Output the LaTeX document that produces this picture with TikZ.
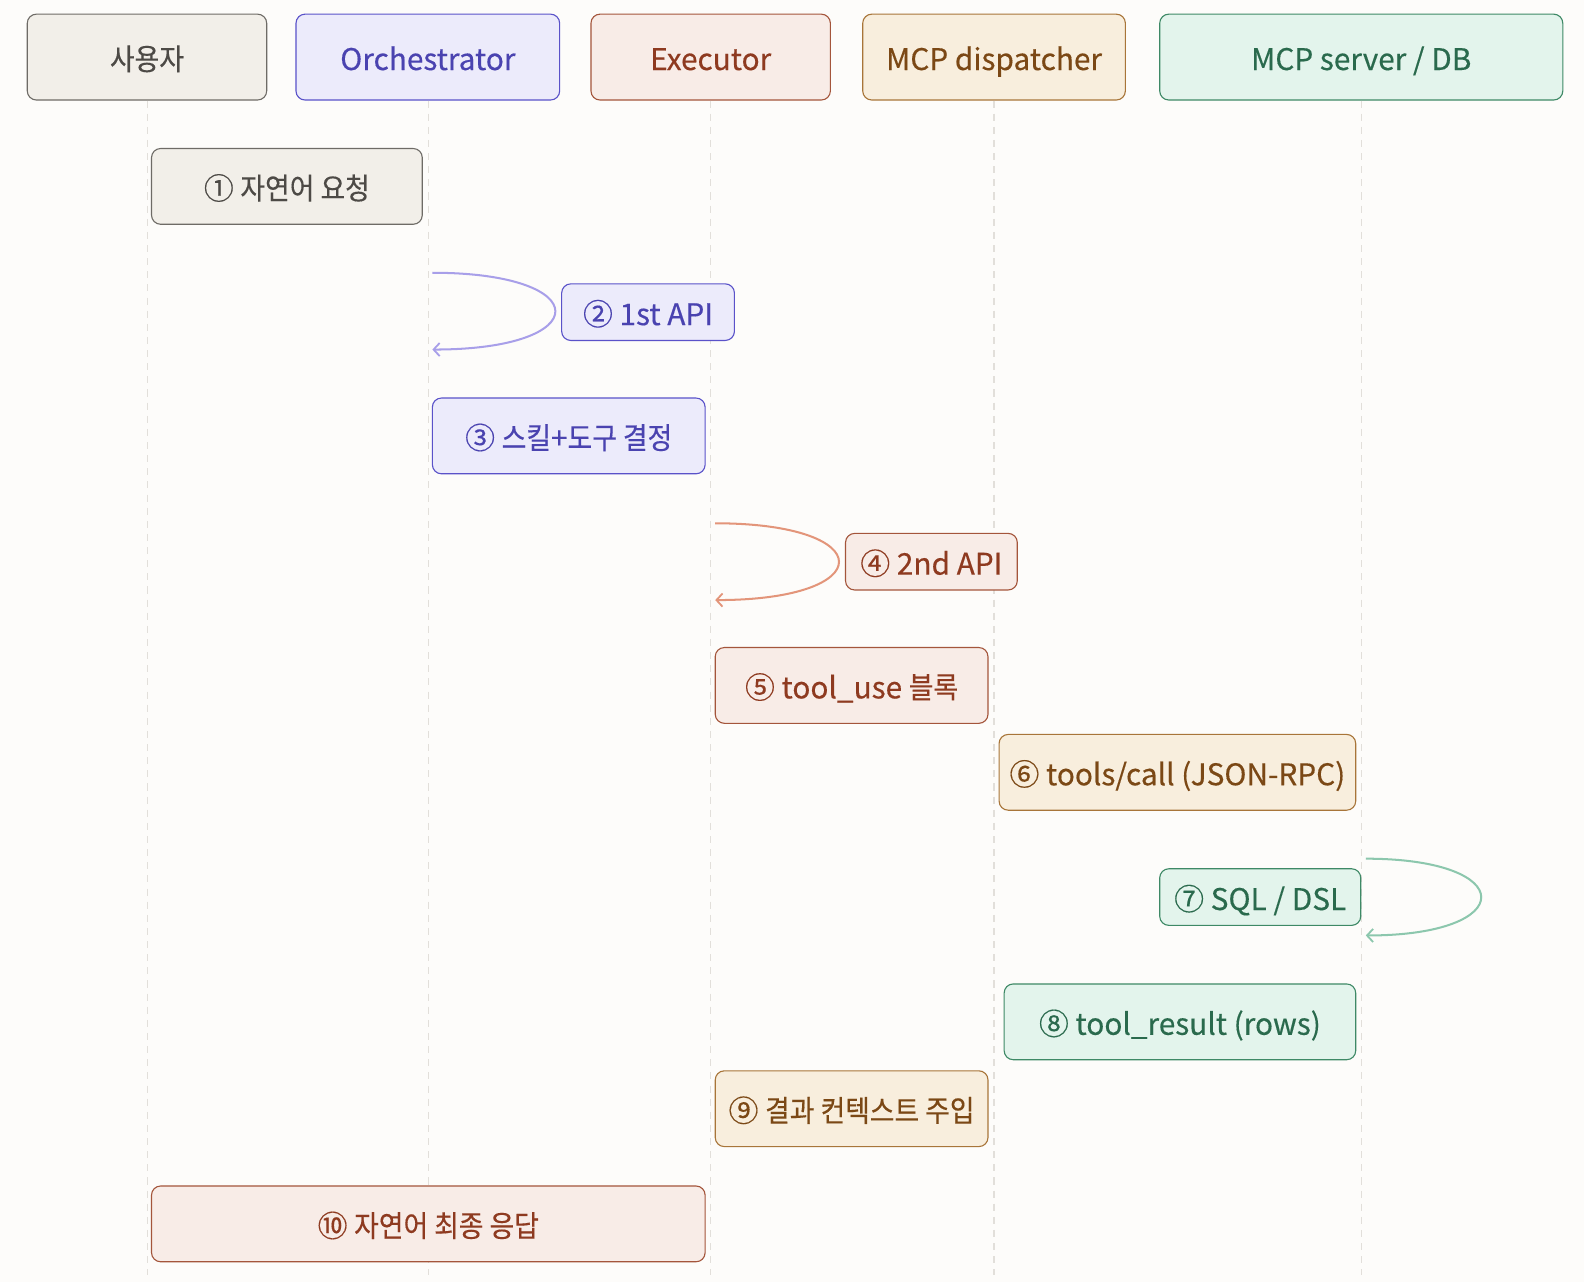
\documentclass[tikz,border=0pt]{standalone}
\usepackage{fontspec}
\setmainfont{Noto Sans CJK KR}[FakeBold=0.35]
\newfontfamily\kr{Noto Sans CJK KR}[FakeBold=0.35, FakeStretch=0.9]
\usetikzlibrary{arrows.meta}
\definecolor{bg}{HTML}{FDFCFA}
\definecolor{gfill}{HTML}{F2EFE9}\definecolor{gdraw}{HTML}{6E6B66}\definecolor{gtext}{HTML}{4D4A46}
\definecolor{pfill}{HTML}{ECEBFB}\definecolor{pdraw}{HTML}{5A52C9}\definecolor{ptext}{HTML}{4A43B0}\definecolor{ploop}{HTML}{A89FE9}
\definecolor{efill}{HTML}{F8ECE7}\definecolor{edraw}{HTML}{A4553B}\definecolor{etext}{HTML}{8E3A20}\definecolor{eloop}{HTML}{E3957A}
\definecolor{dfill}{HTML}{F8EEDD}\definecolor{ddraw}{HTML}{A87539}\definecolor{dtext}{HTML}{7B4815}
\definecolor{sfill}{HTML}{E3F4EC}\definecolor{sdraw}{HTML}{3E8966}\definecolor{stext}{HTML}{2A6A4D}\definecolor{sloop}{HTML}{8CC7AD}
\definecolor{lifec}{HTML}{E2DFDA}
\begin{document}
\begin{tikzpicture}[x=1pt,y=1pt,
  box/.style={rectangle, rounded corners=9pt, line width=1.1pt, inner sep=0pt,
    font=\fontsize{29.5}{32}\selectfont, text height=28pt, text depth=2.4pt},
  gbox/.style={box, fill=gfill, draw=gdraw, text=gtext},
  pbox/.style={box, fill=pfill, draw=pdraw, text=ptext},
  ebox/.style={box, fill=efill, draw=edraw, text=etext},
  dbox/.style={box, fill=dfill, draw=ddraw, text=dtext},
  sbox/.style={box, fill=sfill, draw=sdraw, text=stext},
  life/.style={draw=lifec, line width=1.2pt, dash pattern=on 7pt off 6pt},
  selfloop/.style={line width=2pt, -{Straight Barb[length=6pt,width=13pt,line width=1.8pt]}}
]
\useasboundingbox[fill=bg] (0,0) rectangle (1568,-1269);

% headers
\node[gbox, minimum width=237pt, minimum height=85pt] (h1) at (145.5,-56.5) {{\kr 사용자}};
\node[pbox, minimum width=261pt, minimum height=85pt] (h2) at (423.5,-56.5) {Orchestrator};
\node[ebox, minimum width=237pt, minimum height=85pt] (h3) at (703.5,-56.5) {Executor};
\node[dbox, minimum width=260pt, minimum height=85pt] (h4) at (984,-56.5) {MCP dispatcher};
\node[sbox, minimum width=399pt, minimum height=85pt] (h5) at (1347.5,-56.5) {MCP server / DB};

% lifeline ends
\coordinate (e1) at (146,-1262);
\coordinate (e2) at (424,-1262);
\coordinate (e3) at (703,-1262);
\coordinate (e4) at (984,-1262);
\coordinate (e5) at (1348,-1262);
\draw[life] (h1.south -| e1) -- (e1);
\draw[life] (h2.south -| e2) -- (e2);
\draw[life] (h3.south -| e3) -- (e3);
\draw[life] (h4.south -| e4) -- (e4);
\draw[life] (h5.south -| e5) -- (e5);

% messages
\node[gbox, minimum width=268pt, minimum height=75pt] (m1) at (284,-184.5) {① {\kr 자연어 요청}};

\coordinate (l2a) at (428,-270);
\coordinate (l2b) at (428,-346);
\draw[selfloop, ploop] (l2a) .. controls (590,-270) and (590,-346) .. (l2b);
\node[pbox, minimum width=171pt, minimum height=56pt] (m2) at (641.5,-309) {② 1st API};

\node[pbox, minimum width=270pt, minimum height=75pt] (m3) at (563,-431.5) {③ {\kr 스킬}+{\kr 도구 결정}};

\coordinate (l4a) at (708,-518);
\coordinate (l4b) at (708,-594);
\draw[selfloop, eloop] (l4a) .. controls (871,-518) and (871,-594) .. (l4b);
\node[ebox, minimum width=170pt, minimum height=56pt] (m4) at (922,-556) {④ 2nd API};

\node[ebox, minimum width=270pt, minimum height=75pt] (m5) at (843,-678.5) {⑤ tool\_use {\kr 블록}};

\node[dbox, minimum width=353pt, minimum height=75pt] (m6) at (1165.5,-764.5) {⑥ tools/call (JSON-RPC)};

\coordinate (l7a) at (1352,-850);
\coordinate (l7b) at (1352,-926);
\draw[selfloop, sloop] (l7a) .. controls (1504,-850) and (1504,-926) .. (l7b);
\node[sbox, minimum width=199pt, minimum height=56pt] (m7) at (1247.5,-888) {⑦ SQL / DSL};

\node[sbox, minimum width=348pt, minimum height=75pt] (m8) at (1168,-1011.5) {⑧ tool\_result (rows)};

\node[dbox, minimum width=270pt, minimum height=75pt] (m9) at (843,-1097.5) {⑨ {\kr 결과 컨텍스트 주입}};

\node[ebox, minimum width=548pt, minimum height=75pt] (m10) at (424,-1211.5) {⑩ {\kr 자연어 최종 응답}};
\end{tikzpicture}
\end{document}
